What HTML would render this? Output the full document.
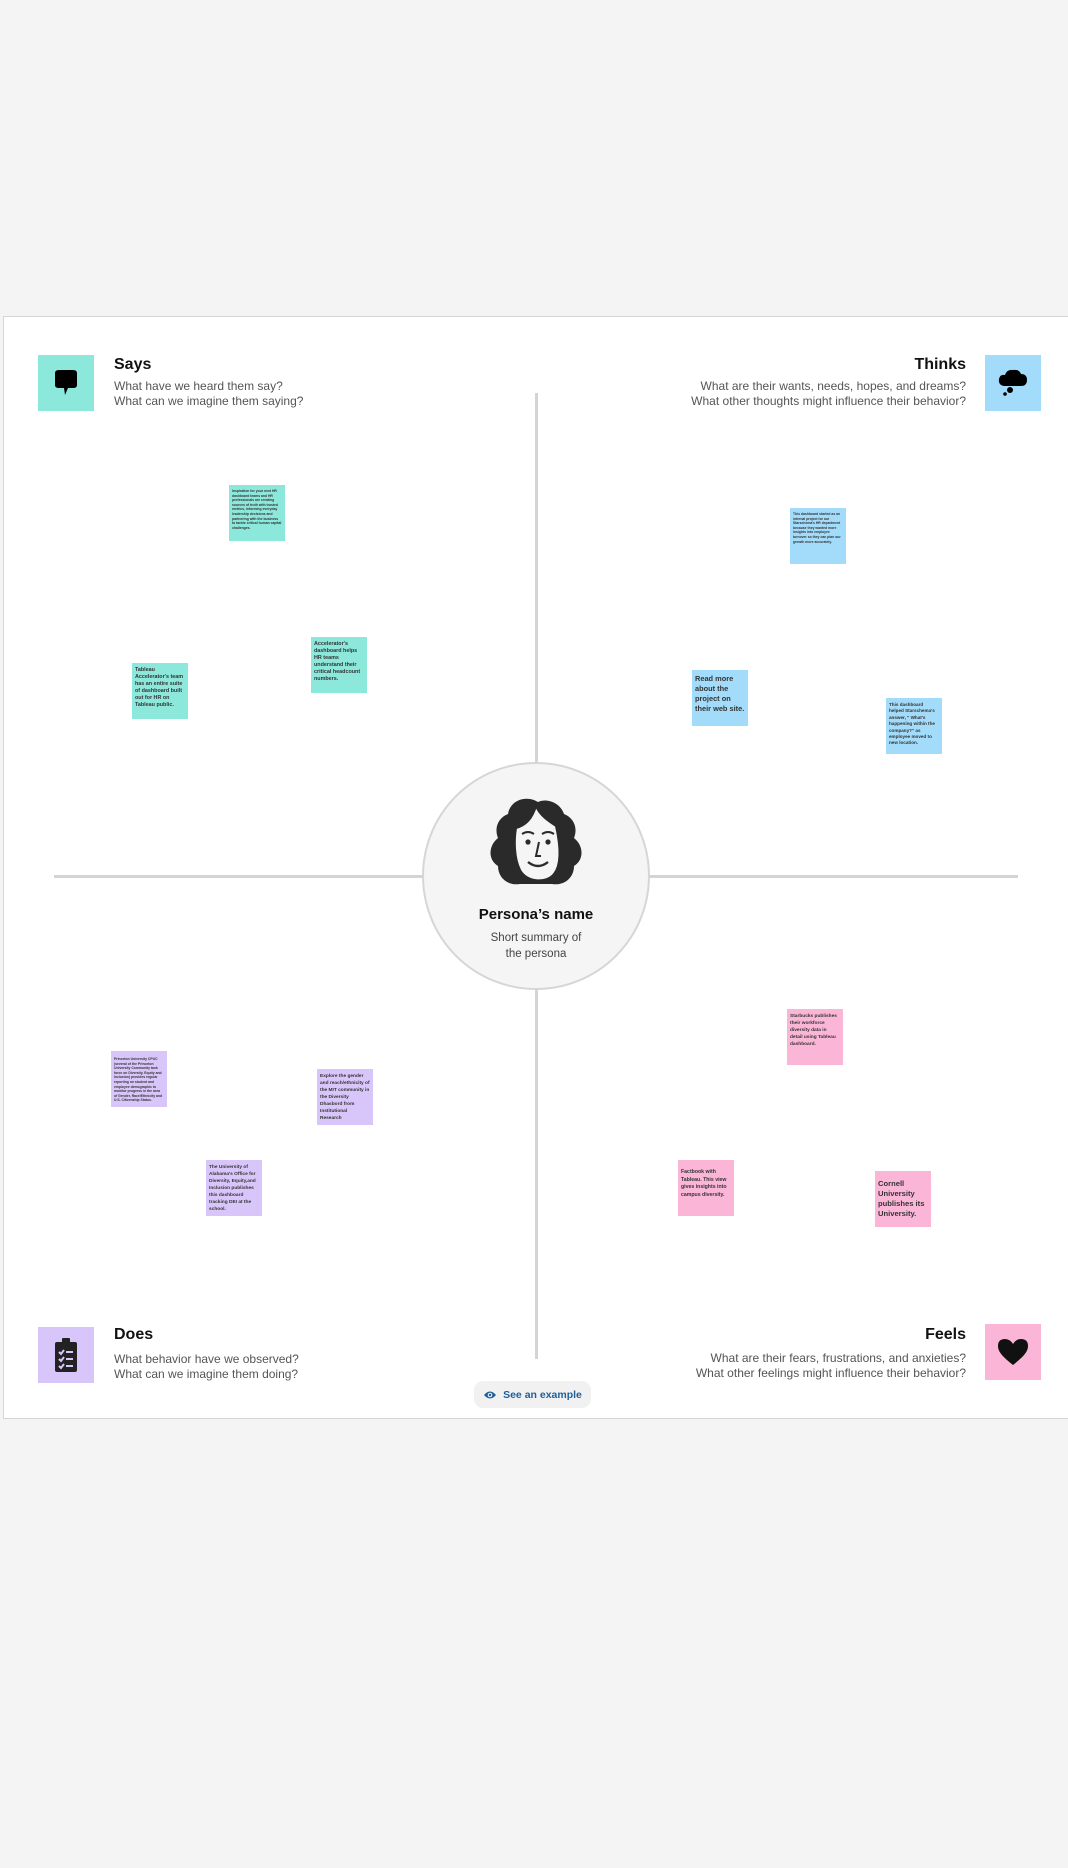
<!DOCTYPE html>
<html><head><meta charset="utf-8">
<style>
html,body{margin:0;padding:0;}
body{width:1068px;height:1868px;background:#f4f4f4;position:relative;overflow:hidden;font-family:"Liberation Sans",sans-serif;}
.board{position:absolute;left:3px;top:316px;width:1070px;height:1103px;background:#fff;border:1.5px solid #d6d6d6;box-sizing:border-box;}
.abs{position:absolute;}
.line{position:absolute;background:#d4d4d4;}
.icon{position:absolute;width:56px;height:56px;display:flex;align-items:center;justify-content:center;}
.title{position:absolute;font-weight:bold;font-size:16px;color:#111;}
.sub{position:absolute;font-size:12px;color:#555;line-height:15px;}
.right{text-align:right;}
.sticky{position:absolute;width:56px;height:56px;box-sizing:border-box;padding:4px 3px;color:#333;font-weight:bold;overflow:hidden;}
.s1{font-size:3.4px;line-height:4.6px;}
.s2{font-size:5.4px;line-height:7px;}
.s3{font-size:7.4px;line-height:10px;}
.teal{background:#8de8dc;}.blue{background:#a3dcfa;}.pink{background:#fbb6d7;}.purple{background:#d8c6fb;}
</style></head><body>
<div class="board"></div>

<div class="line" style="left:535px;top:393px;width:3px;height:966px;"></div>
<div class="line" style="left:54px;top:875px;width:964px;height:3px;"></div>

<div class="abs" style="left:422px;top:762px;width:228px;height:228px;border-radius:50%;background:#f5f5f5;border:2px solid #d6d6d6;box-sizing:border-box;"></div>
<svg class="abs" style="left:484px;top:796px" width="104" height="92" viewBox="0 0 104 92">
<path d="M50 4 C38 0 26 6 24 18 C14 22 10 32 14 42 C4 50 4 64 14 70 C14 82 24 90 36 88 L68 88 C80 90 90 82 90 70 C100 64 100 50 90 42 C94 32 90 22 80 18 C76 6 62 2 54 6 Z" fill="#2a2a2a"/>
<path d="M52 10 C48 24 40 30 32 32 C30 44 30 62 36 74 C42 86 62 88 70 78 C78 68 76 48 72 30 C66 26 56 20 52 10 Z" fill="#f5f5f5" stroke="#2a2a2a" stroke-width="2"/>
<path d="M38 38 Q44 34 50 38 M58 38 Q64 34 70 38" stroke="#2a2a2a" stroke-width="2" fill="none"/>
<circle cx="44" cy="46" r="2.6" fill="#2a2a2a"/><circle cx="64" cy="46" r="2.6" fill="#2a2a2a"/>
<path d="M55 46 L52 60 L57 60" stroke="#2a2a2a" stroke-width="2" fill="none"/>
<path d="M44 66 Q54 74 64 66" stroke="#2a2a2a" stroke-width="2.4" fill="none"/>
</svg>
<div class="abs" style="left:422px;width:228px;top:906px;text-align:center;font-weight:bold;font-size:15px;color:#111;">Persona’s name</div>
<div class="abs" style="left:422px;width:228px;top:930px;text-align:center;font-size:11.5px;line-height:16px;color:#444;">Short summary of<br>the persona</div>

<div class="icon teal" style="left:38px;top:355px;">
<svg width="30" height="30" viewBox="0 0 30 30"><path d="M4 5 Q4 2 8 2 L22 2 Q26 2 26 5 L26 17 Q26 20 22 20 L17 20 L14 27 L13 20 L8 20 Q4 20 4 17 Z" fill="#000"/></svg></div>
<div class="title" style="left:114px;top:356px;">Says</div>
<div class="sub" style="left:114px;top:379px;">What have we heard them say?<br>What can we imagine them saying?</div>

<div class="icon blue" style="left:985px;top:355px;">
<svg width="34" height="30" viewBox="0 0 34 30"><path d="M8 18 Q2 17 3 11 Q4 6 9 7 Q11 1 17 2 Q23 1 25 6 Q31 6 31 12 Q31 18 25 18 Z" fill="#000"/><circle cx="14" cy="22" r="3" fill="#000"/><circle cx="9" cy="26" r="1.8" fill="#000"/></svg></div>
<div class="title right" style="right:102px;top:356px;">Thinks</div>
<div class="sub right" style="right:102px;top:379px;">What are their wants, needs, hopes, and dreams?<br>What other thoughts might influence their behavior?</div>

<div class="icon purple" style="left:38px;top:1327px;">
<svg width="26" height="36" viewBox="0 0 26 36"><rect x="2" y="5" width="22" height="30" rx="2" fill="#222"/><rect x="9" y="1" width="8" height="6" rx="1" fill="#222"/><g stroke="#d8c6fb" stroke-width="2" fill="none"><path d="M6 15 L8 17 L11 13 M13 15 H20 M6 22 L8 24 L11 20 M13 22 H20 M6 29 L8 31 L11 27 M13 29 H20"/></g></svg></div>
<div class="title" style="left:114px;top:1326px;">Does</div>
<div class="sub" style="left:114px;top:1352px;">What behavior have we observed?<br>What can we imagine them doing?</div>

<div class="icon pink" style="left:985px;top:1324px;">
<svg width="32" height="30" viewBox="0 0 32 30"><path d="M16 28 C6 20 1 15 1 9 Q1 2 8 2 Q13 2 16 7 Q19 2 24 2 Q31 2 31 9 C31 15 26 20 16 28 Z" fill="#111"/></svg></div>
<div class="title right" style="right:102px;top:1326px;">Feels</div>
<div class="sub right" style="right:102px;top:1351px;">What are their fears, frustrations, and anxieties?<br>What other feelings might influence their behavior?</div>

<div class="sticky teal s1" style="left:229px;top:485px;">Inspiration for your next HR dashboard teams and HR professionals are creating sources of truth with trusted metrics, informing everyday leadership decisions and partnering with the business to tackle critical human capital challenges.</div>
<div class="sticky teal s2" style="left:311px;top:637px;">Accelerator's dashboard helps HR teams understand their critical headcount numbers.</div>
<div class="sticky teal s2" style="left:132px;top:663px;">Tableau Accelerator's team has an entire suite of dashboard built out for HR on Tableau public.</div>

<div class="sticky blue s1" style="left:790px;top:508px;">This dashboard started as an internal project for our Starschema's HR department because they wanted more insights into employee turnover so they can plan our growth more accurately.</div>
<div class="sticky blue s3" style="left:692px;top:670px;">Read more about the project on their web site.</div>
<div class="sticky blue" style="left:886px;top:698px;font-size:4.6px;line-height:6.4px;">This dashboard helped Starschema's answer, " What's happening within the company?" as employee moved to new location.</div>

<div class="sticky pink" style="left:787px;top:1009px;font-size:4.8px;line-height:7px;">Starbucks publishes their workforce diversity data in detail using Tableau dashboard.</div>
<div class="sticky pink" style="left:678px;top:1160px;font-size:5.2px;line-height:7.6px;padding-top:9px;">Factbook with Tableau. This view gives insights into campus diversity.</div>
<div class="sticky pink s3" style="left:875px;top:1171px;font-size:7.6px;padding-top:8px;">Cornell University publishes its University.</div>

<div class="sticky purple s1" style="left:111px;top:1051px;padding-top:6px;">Princeton University CPUC (several of the Princeton University Community task force on Diversity, Equity and Inclusion) provides regular reporting on student and employee demographic to monitor progress in the area of Gender, Race/Ethnicity and U.S. Citizenship Status.</div>
<div class="sticky purple" style="left:317px;top:1069px;font-size:4.8px;line-height:7px;">Explore the gender and reach/ethnicity of the MIT community in the Diversity Dhasbord from Institutional Research</div>
<div class="sticky purple" style="left:206px;top:1160px;font-size:4.8px;line-height:7px;">The University of Alabama's Office for Diversity, Equity,and Inclusion publishes this dashboard tracking DEI at the school.</div>

<div class="abs" style="left:474px;top:1381px;width:117px;height:27px;border-radius:9px;background:#f1f1f1;display:flex;align-items:center;justify-content:center;gap:6px;font-size:10.5px;font-weight:bold;color:#1f5f9a;">
<svg width="14" height="10" viewBox="0 0 14 10"><path d="M1 5 Q7 -2 13 5 Q7 12 1 5 Z" fill="#1f5f9a"/><circle cx="7" cy="5" r="2.3" fill="#f1f1f1"/><circle cx="7" cy="5" r="1.2" fill="#1f5f9a"/></svg>
<span>See an example</span></div>
</body></html>
